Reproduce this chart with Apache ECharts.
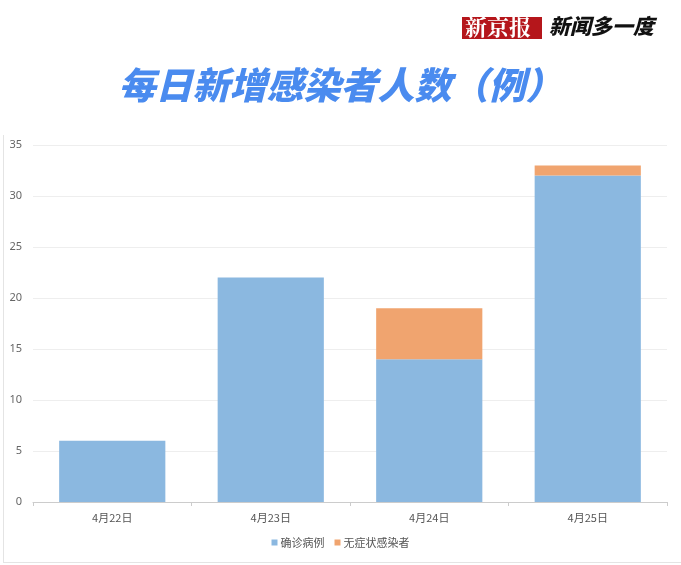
<!DOCTYPE html>
<html>
<head>
<meta charset="utf-8">
<script src="https://cdn.jsdelivr.net/npm/echarts@6/dist/echarts.min.js"></script>
<style>
html,body{margin:0;padding:0;background:#fff;}
#chart{width:681px;height:565px;}
</style>
</head>
<body>
<div id="chart"></div>
<script>
var categories = ['4月22日', '4月23日', '4月24日', '4月25日'];
var confirmed = [6, 22, 14, 32];
var asymptomatic = [0, 0, 5, 1];
var yTicks = [0, 5, 10, 15, 20, 25, 30, 35];
var seriesNames = ['确诊病例', '无症状感染者'];
var titleText = '每日新增感染者人数（例）';

var chart = echarts.init(document.getElementById('chart'));
var option = {
  backgroundColor: '#ffffff',
  animation: false,
  graphic: [
    { type: 'rect', shape: { x: 462, y: 17, width: 80, height: 22 }, style: { fill: '#b5161b' } },
    { type: 'text', left: 465, top: 16, style: { text: '新京报', fill: '#ffffff', font: 'bold 22px "Noto Serif CJK SC", "Noto Sans CJK SC", serif' } },
    { type: 'text', left: 549, top: 16, style: { text: '新闻多一度', fill: '#111111', font: 'italic 900 21px "Noto Sans CJK SC", sans-serif' } },
    { type: 'text', left: 'center', top: 66, style: { text: titleText, fill: '#4a8bef', font: 'italic 900 37px "Noto Sans CJK SC", sans-serif' } },
    { type: 'line', shape: { x1: 3.5, y1: 135, x2: 3.5, y2: 562 }, style: { stroke: '#e4e4e4', lineWidth: 1 } },
    { type: 'line', shape: { x1: 3, y1: 562.5, x2: 681, y2: 562.5 }, style: { stroke: '#e4e4e4', lineWidth: 1 } }
  ],
  grid: { left: 33, right: 14, top: 145, bottom: 63, containLabel: false },
  legend: {
    data: seriesNames,
    bottom: 12,
    left: 'center',
    itemWidth: 6,
    itemHeight: 6,
    itemGap: 10,
    icon: 'rect',
    textStyle: { fontSize: 11, color: '#555', fontFamily: '"Noto Sans CJK SC", sans-serif', padding: [0, 0, 0, -2] }
  },
  xAxis: {
    type: 'category',
    data: categories,
    axisLine: { lineStyle: { color: '#cccccc' } },
    axisTick: { show: true, alignWithLabel: false, length: 4, lineStyle: { color: '#cccccc' } },
    axisLabel: { fontSize: 11, color: '#555', margin: 10, fontFamily: '"Noto Sans CJK SC", sans-serif' }
  },
  yAxis: {
    type: 'value',
    min: yTicks[0],
    max: yTicks[yTicks.length - 1],
    interval: yTicks[1] - yTicks[0],
    axisLine: { show: false },
    axisTick: { show: false },
    splitLine: { lineStyle: { color: '#eeeeee' } },
    axisLabel: { fontSize: 11, color: '#666', margin: 11, fontFamily: '"Noto Sans", sans-serif' }
  },
  series: [
    {
      name: seriesNames[0],
      type: 'bar',
      stack: 'total',
      data: confirmed,
      barWidth: '67%',
      itemStyle: { color: '#8bb8e0' }
    },
    {
      name: seriesNames[1],
      type: 'bar',
      stack: 'total',
      data: asymptomatic,
      barWidth: '67%',
      itemStyle: { color: '#f0a46f' }
    }
  ]
};
chart.setOption(option);
</script>
</body>
</html>
